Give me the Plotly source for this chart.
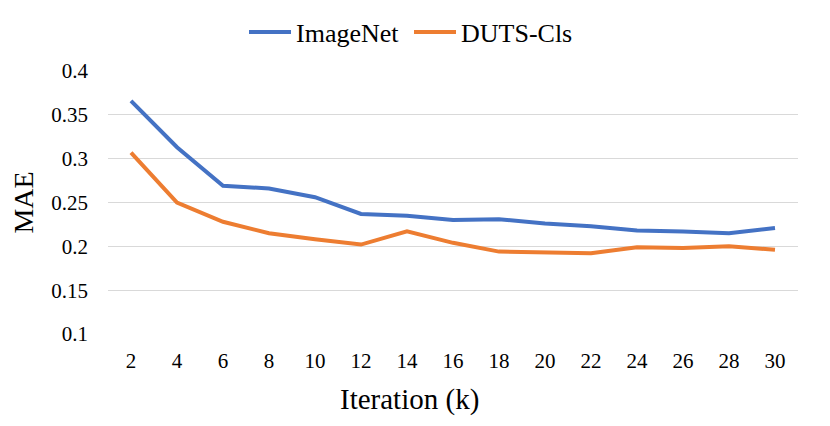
import plotly.graph_objects as go

iterations = ["2", "4", "6", "8", "10", "12", "14", "16", "18", "20", "22", "24", "26", "28", "30"]
imagenet = [0.366, 0.313, 0.269, 0.266, 0.256, 0.237, 0.235, 0.230, 0.231, 0.226, 0.223, 0.218, 0.217, 0.215, 0.221]
duts_cls = [0.307, 0.250, 0.228, 0.215, 0.208, 0.202, 0.217, 0.204, 0.194, 0.193, 0.192, 0.199, 0.198, 0.200, 0.196]
y_ticks = [0.1, 0.15, 0.2, 0.25, 0.3, 0.35, 0.4]
y_tick_labels = ["0.1", "0.15", "0.2", "0.25", "0.3", "0.35", "0.4"]

FONT = "Times New Roman, Liberation Serif, serif"
W, H = 830, 426
OFF = 8  # page body margin offset
PL, PR, PT, PB = 108, 798, 71, 334  # plot area in screen px

fig = go.Figure()
fig.add_trace(go.Scatter(x=iterations, y=imagenet, mode="lines", name="ImageNet",
                         line=dict(color="#4472C4", width=4)))
fig.add_trace(go.Scatter(x=iterations, y=duts_cls, mode="lines", name="DUTS-Cls",
                         line=dict(color="#ED7D31", width=4)))

fig.update_layout(
    width=W, height=H,
    margin=dict(l=PL - OFF, r=W - PR + OFF, t=PT - OFF, b=H - PB + OFF, autoexpand=False),
    paper_bgcolor="white", plot_bgcolor="white",
    font=dict(family=FONT, color="#000000", size=21),
    showlegend=True,
    legend=dict(orientation="h", x=(249 - OFF - 5) / W, xanchor="left", xref="container",
                y=1 - (32 - OFF) / H, yanchor="middle", yref="container",
                font=dict(family=FONT, size=26, color="#000000"), itemwidth=42,
                entrywidth=108, entrywidthmode="pixels",
                tracegroupgap=0, bgcolor="rgba(0,0,0,0)"),
)

fig.add_annotation(text="Iteration (k)", xref="paper", yref="paper",
                   x=(409 - PL) / (PR - PL), y=-(399 - PB) / (PB - PT),
                   xanchor="center", yanchor="middle", showarrow=False,
                   font=dict(family=FONT, size=29, color="#000000"))

fig.update_xaxes(type="category", range=[-0.5, 14.5], showgrid=False, showline=False,
                 zeroline=False, ticks="", ticklabelstandoff=12,
                 tickfont=dict(family=FONT, size=21, color="#000000"))
fig.update_yaxes(range=[0.1, 0.4], tickvals=y_ticks, ticktext=y_tick_labels,
                 showgrid=True, gridcolor="#d9d9d9", gridwidth=1, zeroline=False,
                 showline=False, ticks="", ticklabelstandoff=19,
                 tickfont=dict(family=FONT, size=21, color="#000000"),
                 title=dict(text="MAE", font=dict(family=FONT, size=28, color="#000000"),
                            standoff=10))

fig.write_html("out.html")
